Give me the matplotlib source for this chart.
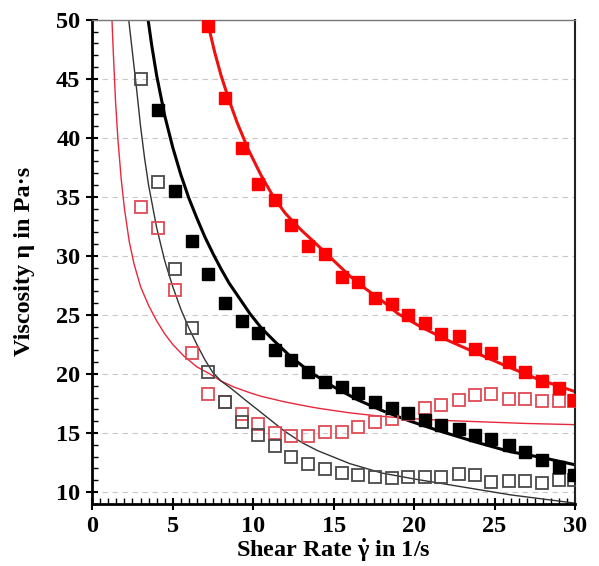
import matplotlib
matplotlib.use("Agg")
import matplotlib.pyplot as plt
from matplotlib.ticker import MultipleLocator

# measured shear rates (1/s)
shear_rate = [3.04, 4.08, 5.16, 6.19, 7.18, 8.26, 9.3, 10.33, 11.35, 12.38,
              13.4, 14.47, 15.5, 16.5, 17.55, 18.6, 19.65, 20.7, 21.7, 22.8,
              23.8, 24.8, 25.9, 26.9, 27.97, 29.0, 29.95]

# open squares (all shear rates)
visc_open_black = [45.0, 36.3, 28.9, 23.9, 20.2, 17.65, 15.9, 14.8, 13.9, 13.0,
                   12.4, 11.95, 11.6, 11.4, 11.3, 11.2, 11.3, 11.3, 11.3, 11.5,
                   11.45, 10.8, 10.95, 10.9, 10.75, 11.0, 11.0]
visc_open_red = [34.1, 32.4, 27.1, 21.8, 18.3, 17.6, 16.6, 15.75, 15.0, 14.7,
                 14.7, 15.05, 15.05, 15.5, 15.9, 16.2, 16.6, 17.1, 17.4, 17.8,
                 18.2, 18.3, 17.9, 17.9, 17.7, 17.7, 17.7]

# filled squares (start later)
visc_filled_black = [42.4, 35.5, 31.3, 28.45, 26.0, 24.5, 23.5, 22.0, 21.2, 20.2,
                     19.3, 18.9, 18.4, 17.6, 17.1, 16.7, 16.1, 15.7, 15.3, 14.8,
                     14.5, 14.0, 13.4, 12.7, 12.1, 11.4]
visc_filled_red = [49.5, 43.4, 39.1, 36.1, 34.7, 32.6, 30.8, 30.2, 28.2, 27.8,
                   26.4, 25.9, 25.0, 24.3, 23.35, 23.2, 22.1, 21.75, 21.0, 20.2,
                   19.4, 18.8, 17.8]

# fitted model curves
fit_red_thick_x = [7.05, 7.2, 7.6, 8.0, 8.5, 9.0, 9.7, 10.5, 11.3, 12.0, 12.9, 14.0,
                   15.0, 16.0, 17.0, 18.1, 19.0, 20.4, 22.0, 23.9, 25.5, 27.6, 30.0]
fit_red_thick_y = [50.3, 49.6, 47.3, 45.3, 43.2, 41.3, 39.0, 36.8, 34.9, 33.6, 32.3, 30.9,
                   29.6, 28.3, 27.2, 26.1, 25.1, 24.0, 22.9, 21.75, 20.8, 19.6, 18.5]

fit_black_thick_x = [3.45, 3.7, 4.0, 4.5, 5.0, 5.5, 6.0, 6.5, 7.0, 7.5, 8.0, 8.5, 9.0,
                     9.8, 10.5, 11.3, 12.3, 13.5, 15.0, 16.5, 18.0, 19.75, 21.5,
                     23.9, 26.0, 28.0, 30.0]
fit_black_thick_y = [50.2, 47.8, 45.3, 41.9, 39.2, 36.9, 34.9, 33.2, 31.6, 30.2, 28.9,
                     27.7, 26.7, 25.1, 23.9, 22.8, 21.5, 20.2, 18.9, 17.8, 16.9, 16.0,
                     15.2, 14.2, 13.4, 12.9, 12.3]

fit_black_thin_x = [2.25, 2.5, 2.75, 3.0, 3.25, 3.5, 4.0, 4.5, 5.0, 5.5, 6.0, 6.5, 7.0,
                    7.5, 8.0, 8.6, 9.5, 10.43, 11.9, 13.0, 14.0, 16.0, 18.0, 20.0,
                    22.0, 24.0, 26.0, 28.0, 30.0]
fit_black_thin_y = [50.2, 47.2, 44.2, 41.0, 38.3, 36.0, 32.4, 29.6, 27.4, 25.5, 23.9,
                    22.5, 21.2, 20.1, 19.4, 18.8, 17.8, 16.8, 15.2, 14.2, 13.5, 12.4,
                    11.6, 11.1, 10.65, 10.2, 9.75, 9.4, 9.05]

fit_red_thin_x = [1.22, 1.3, 1.45, 1.6, 1.8, 2.0, 2.3, 2.6, 3.0, 3.5, 4.0, 4.5, 5.0,
                  5.7, 6.5, 7.3, 8.0, 8.78, 9.8, 10.5, 11.9, 13.0, 14.0, 16.0, 18.0,
                  20.0, 22.0, 24.0, 27.0, 30.0]
fit_red_thin_y = [50.2, 47.5, 43.0, 39.8, 36.5, 34.0, 31.2, 29.3, 27.4, 25.8, 24.5,
                  23.4, 22.5, 21.5, 20.6, 20.0, 19.4, 18.9, 18.4, 18.1, 17.65, 17.35,
                  17.1, 16.7, 16.4, 16.2, 16.05, 15.95, 15.8, 15.7]

plt.rcParams["font.family"] = ["Liberation Serif", "DejaVu Serif"]
plt.rcParams["font.weight"] = "bold"
plt.rcParams["mathtext.fontset"] = "custom"
plt.rcParams["mathtext.rm"] = "Liberation Serif:bold"
plt.rcParams["mathtext.it"] = "Liberation Serif:bold"
plt.rcParams["mathtext.bf"] = "Liberation Serif:bold"

fig = plt.figure(figsize=(5.99, 5.66), dpi=100)
ax = fig.add_axes([0.154, 0.110, 0.806, 0.855])

# model lines
ax.plot(fit_red_thin_x, fit_red_thin_y, color="#e8283c", lw=1.0, zorder=2)
ax.plot(fit_black_thin_x, fit_black_thin_y, color="#333333", lw=1.0, zorder=2)
ax.plot(fit_black_thick_x, fit_black_thick_y, color="black", lw=2.2, zorder=2)
ax.plot(fit_red_thick_x, fit_red_thick_y, color="#ee1111", lw=2.2, zorder=2)

# measurements
ax.plot(shear_rate, visc_open_red, ls="none", marker="s", ms=9, mfc="none",
        mec="#e04a55", mew=1.3, zorder=3)
ax.plot(shear_rate, visc_open_black, ls="none", marker="s", ms=9, mfc="none",
        mec="#4a4a4a", mew=1.3, zorder=3)
ax.plot(shear_rate[1:], visc_filled_black, ls="none", marker="s", ms=9,
        color="black", zorder=4)
ax.plot(shear_rate[4:], visc_filled_red, ls="none", marker="s", ms=9,
        color="#ff0000", zorder=4)

ax.set_xlim(0, 30)
ax.set_ylim(9, 50)
ax.xaxis.set_major_locator(MultipleLocator(5))
ax.xaxis.set_minor_locator(MultipleLocator(0.5))
ax.yaxis.set_minor_locator(MultipleLocator(1))
ax.set_yticks([10, 15, 20, 25, 30, 35, 40, 45, 50])

ax.grid(axis="y", which="major", ls=(0, (5, 4)), color="#c8c8c8", lw=0.8)
ax.set_axisbelow(True)

ax.tick_params(which="major", direction="inout", length=9, width=1.5,
               top=False, right=False, pad=4, labelsize=17.5)
ax.tick_params(which="minor", direction="in", length=4, width=1.0,
               top=False, right=False)

ax.spines["left"].set_linewidth(2)
ax.spines["bottom"].set_linewidth(2)
ax.spines["top"].set_linewidth(1)
ax.spines["top"].set_color("#777777")
ax.spines["right"].set_linewidth(1.5)
ax.spines["right"].set_color("#222222")

ax.set_xlabel(r"Shear Rate $\dot{\gamma}$ in 1/s", fontweight="bold",
              fontsize=17.5, labelpad=0)
ax.set_ylabel("Viscosity \u03b7 in Pa\u00b7s", fontweight="bold",
              fontsize=17.5, labelpad=15)

fig.savefig("out.png", dpi=100)
